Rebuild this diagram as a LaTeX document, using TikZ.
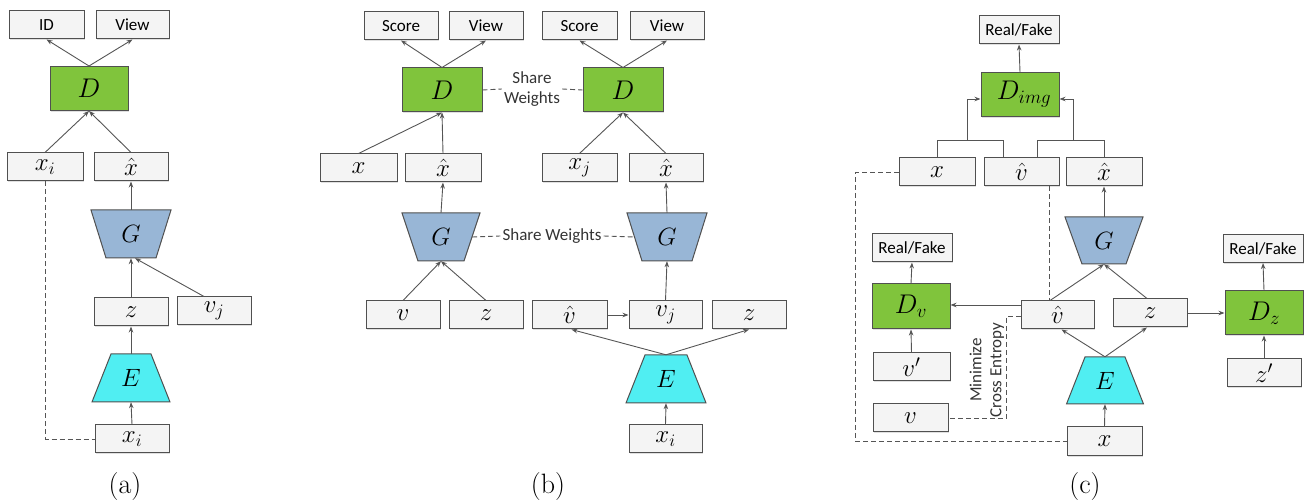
\RequirePackage{fix-cm}
\documentclass[tikz,border=0pt]{standalone}
\usepackage{fontspec}
\newfontfamily\lblfont{Carlito}
\usetikzlibrary{arrows.meta,shadows}

\definecolor{edgegray}{RGB}{80,80,80}
\definecolor{linegray}{RGB}{85,85,85}
\definecolor{boxfill}{RGB}{244,244,244}
\definecolor{dgreen}{RGB}{128,196,60}
\definecolor{gblue}{RGB}{152,182,214}
\definecolor{ecyan}{RGB}{80,238,242}

\tikzset{
  box/.style={draw=edgegray, line width=1pt, fill=boxfill, minimum width=74pt,
    minimum height=28pt, inner sep=0pt,
    drop shadow={shadow xshift=1.2pt, shadow yshift=-1.2pt, fill=black, opacity=0.12},
    font=\fontsize{25}{27}\selectfont},
  tbox/.style={box, font=\lblfont\fontsize{17}{20}\selectfont},
  dbox/.style={box, fill=dgreen, minimum width=78pt, minimum height=44pt,
    font=\fontsize{27}{29}\selectfont},
  lbl/.style={inner sep=2pt, align=center, text=black!80, font=\lblfont\fontsize{17}{20}\selectfont},
  blockline/.style={draw=edgegray, line width=1pt},
  arr/.style={draw=linegray, line width=0.9pt, -{Stealth[length=6pt,width=4.5pt]}},
  plain/.style={draw=linegray, line width=0.9pt},
  dashline/.style={draw=linegray, line width=0.9pt, dash pattern=on 5pt off 3pt},
  subcap/.style={font=\fontsize{28}{30}\selectfont},
}

% trapezoid network block: name, cx, cy, top half-width, bottom half-width, half-height, fill, label
\newcommand{\netblock}[8]{%
  \filldraw[blockline, fill=#7] ({#2-#4},{#3-#6}) -- ({#2+#4},{#3-#6}) -- ({#2+#5},{#3+#6}) -- ({#2-#5},{#3+#6}) -- cycle;
  \node[inner sep=0pt, minimum width={#4+#5}, minimum height={2*#6}, font=\fontsize{25}{27}\selectfont] (#1) at (#2,#3) {#8};
}

\begin{document}
\begin{tikzpicture}[x=1pt, y=-1pt]
\useasboundingbox (0,0) rectangle (1307,502);

% ---------------- (a) ----------------
\netblock{aG}{131}{234}{40}{25}{24}{gblue}{$G$}
\netblock{aE}{131}{378}{20}{39}{24}{ecyan}{$E$}
\node[tbox, minimum width=75pt] (aID) at (46.5,25) {ID};
\node[tbox, minimum width=73pt] (aView) at (132.5,25) {View};
\node[dbox] (aD) at (89,88.5) {$D$};
\node[box, minimum width=76pt] (axi) at (45,167) {$x_i$};
\node[box] (axh) at (131,167) {$\hat{x}$};
\node[box] (az) at (131,312) {$z$};
\node[box] (avj) at (214,311) {$v_j$};
\node[box] (axi2) at (132,439) {$x_i$};
\node[subcap] (capa) at (125,487) {(a)};

\draw[arr] (aD.north) -- (aID.south);
\draw[arr] (aD.north) -- (aView.south);
\draw[arr] (axi.north) -- (aD.south);
\draw[arr] (axh.north) -- (aD.south);
\draw[arr] (aG.north) -- (axh.south);
\draw[arr] (az.north) -- (aG.south);
\draw[arr] ([xshift=-10pt]avj.north) -- ([xshift=4pt]aG.south);
\draw[arr] (aE.north) -- (az.south);
\draw[arr] (axi2.north) -- (aE.south);
\draw[dashline] (axi.south) |- (axi2.west);

% ---------------- (b) ----------------
\netblock{bG1}{441}{237}{39}{23}{24}{gblue}{$G$}
\netblock{bG2}{667}{237}{40}{25}{24}{gblue}{$G$}
\netblock{bE}{666}{379}{21}{40}{24}{ecyan}{$E$}
\node[tbox] (bS1) at (401,26) {Score};
\node[tbox] (bV1) at (486,26) {View};
\node[tbox, minimum width=75pt] (bS2) at (579.5,26) {Score};
\node[tbox] (bV2) at (667,26) {View};
\node[dbox, minimum width=80pt] (bD1) at (442,90) {$D$};
\node[dbox, minimum width=80pt] (bD2) at (623,90) {$D$};
\node[lbl] (bsw1) at (532,89) {Share\\Weights};
\node[box, minimum width=77pt] (bx) at (358.5,168) {$x$};
\node[box, minimum width=76pt] (bxh1) at (443,168) {$\hat{x}$};
\node[box, minimum width=75pt] (bxj) at (579.5,168) {$x_j$};
\node[box] (bxh2) at (666,168) {$\hat{x}$};
\node[lbl] (bsw2) at (552,236) {Share Weights};
\node[box] (bv) at (403,315) {$v$};
\node[box] (bz) at (486,315) {$z$};
\node[box, minimum width=75pt] (bvh) at (569.5,315) {$\hat{v}$};
\node[box, minimum width=73pt] (bvj) at (665.5,315) {$v_j$};
\node[box] (bz2) at (749,315) {$z$};
\node[box, minimum width=73pt] (bxi) at (665.5,439) {$x_i$};
\node[subcap] (capb) at (548,487) {(b)};

\draw[arr] (bD1.north) -- (bS1.south);
\draw[arr] (bD1.north) -- (bV1.south);
\draw[arr] (bD2.north) -- (bS2.south);
\draw[arr] (bD2.north) -- (bV2.south);
\draw[dashline] (bD1.east) -- (bsw1.west);
\draw[dashline] (bsw1.east) -- (bD2.west);
\draw[arr] (bx.north) -- (bD1.south);
\draw[arr] (bxh1.north) -- (bD1.south);
\draw[arr] (bxj.north) -- (bD2.south);
\draw[arr] (bxh2.north) -- (bD2.south);
\draw[arr] (bG1.north) -- (bxh1.south);
\draw[arr] (bG2.north) -- (bxh2.south);
\draw[dashline] (bG1.east) -- (bsw2.west);
\draw[dashline] (bsw2.east) -- (bG2.west);
\draw[arr] (bv.north) -- (bG1.south);
\draw[arr] (bz.north) -- (bG1.south);
\draw[arr] (bvh.east) -- (bvj.west);
\draw[arr] (bvj.north) -- (bG2.south);
\draw[arr] (bE.north) -- ([xshift=2pt]bvh.south);
\draw[arr] (bE.north) -- (bz2.south);
\draw[arr] (bxi.north) -- (bE.south);

% ---------------- (c) ----------------
\netblock{cG}{1104}{240.5}{39}{22}{23.5}{gblue}{$G$}
\netblock{cE}{1105}{380.5}{20}{38.5}{23.5}{ecyan}{$E$}
\node[tbox, minimum width=80pt] (cRF) at (1019,30) {Real/Fake};
\node[dbox] (cDimg) at (1020,94.5) {\hspace*{8pt}$D_{img}$};
\node[box, minimum width=76pt] (cx) at (937,172) {$x$};
\node[box, minimum width=75pt] (cvh) at (1021.5,172) {$\hat{v}$};
\node[box, minimum width=76pt] (cxh) at (1104,172) {$\hat{x}$};
\node[tbox, minimum width=80pt] (cRFl) at (912,248) {Real/Fake};
\node[dbox, minimum height=45pt] (cDv) at (911,306.5) {$D_v$};
\node[box, minimum width=77pt] (cvp) at (911.5,367) {$v'$};
\node[box, minimum width=75pt] (cv) at (910.5,418) {$v$};
\node[box, minimum width=73pt] (cvh2) at (1057.5,315) {$\hat{v}$};
\node[box] (cz) at (1150,313) {$z$};
\node[dbox] (cDz) at (1264,313) {$D_z$};
\node[tbox, minimum width=80pt] (cRFr) at (1263,248.5) {Real/Fake};
\node[box] (czp) at (1264,373) {$z'$};
\node[box, minimum width=75pt, minimum height=29pt] (cx2) at (1104.5,441.5) {$x$};
\node[lbl, rotate=90] (cce) at (987,370) {Minimize\\Cross Entropy};
\node[subcap] (capc) at (1085,487) {(c)};

% inputs of the image discriminator
\coordinate (cvhL) at ([xshift=-18pt]cvh.north);
\coordinate (cvhR) at ([xshift=16pt]cvh.north);
\coordinate (cbl) at (967,140);
\coordinate (cbr) at (1073,140);
\draw[plain] (cx.north) -- (cx.north |- cbl) -- (cvhL |- cbl) -- (cvhL);
\draw[plain] (cvhR) -- (cvhR |- cbr) -- (cxh.north |- cbr) -- (cxh.north);
\draw[arr] (cbl) |- ([yshift=-4.5pt]cDimg.west);
\draw[arr] (cbr) |- ([yshift=-4.5pt]cDimg.east);
\draw[arr] (cDimg.north) -- (cRF.south);
\draw[arr] (cG.north) -- (cxh.south);
\draw[arr] ([xshift=-7.5pt]cvh2.north) -- (cG.south);
\draw[arr] ([xshift=-3pt]cz.north) -- (cG.south);
\draw[arr] (cE.north) -- ([xshift=4pt]cvh2.south);
\draw[arr] (cE.north) -- ([xshift=-3pt]cz.south);
\draw[arr] (cx2.north) -- (cE.south);
\draw[arr] ([yshift=10pt]cvh2.west) -- ([yshift=10pt]cvh2.west -| cDv.east);
\draw[arr] (cDv.north) -- (cRFl.south);
\draw[arr] (cvp.north) -- (cDv.south);
\draw[arr] (cz.east) -- (cDz.west);
\draw[arr] (cDz.north) -- (cRFr.south);
\draw[arr] (czp.north) -- (cDz.south);
\draw[dashline] (cx.west) -- ++(-43,0) |- (cx2.west);
\draw[dashline] ([xshift=27.5pt]cvh.south) -- ([xshift=27.5pt]cvh.south |- cvh2.north);
\draw[dashline] ([yshift=-1pt]cvh2.west) -- ++(-14,0) |- (cv.east);
\end{tikzpicture}
\end{document}
